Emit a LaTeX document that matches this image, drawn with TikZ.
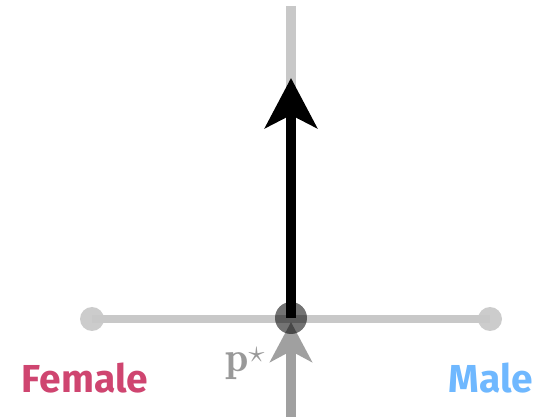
\documentclass[tikz,border=0pt]{standalone}
\usepackage{fontspec}
\usepackage{amsmath}
\usetikzlibrary{arrows.meta,positioning}
\newfontfamily\groupfont{Fira Sans}
\definecolor{axisgray}{HTML}{C8C8C8}
\definecolor{dotgray}{HTML}{CCCCCC}
\definecolor{pushgray}{HTML}{A0A0A0}
\definecolor{labelgray}{HTML}{999999}
\definecolor{femalered}{HTML}{CF4570}
\definecolor{maleblue}{HTML}{6FB8FF}

\begin{document}
\begin{tikzpicture}[x=1pt, y=-1pt,
    axis/.style={draw=axisgray, line width=8pt},
    endpt/.style={circle, fill=dotgray, minimum size=24pt, inner sep=0pt},
    center/.style={circle, fill=black, fill opacity=0.55, minimum size=32pt, inner sep=0pt},
    group/.style={font=\groupfont\bfseries\fontsize{39}{39}\selectfont}
  ]
    \useasboundingbox (0,0) rectangle (539,417);
    % axes
    \coordinate (top) at (291,6);
    \coordinate (head) at (291,78);
    \coordinate (origin) at (291,318);
    \coordinate (bottom) at (291,417);
    \coordinate (tipin) at (291,322);
    \node[endpt] (left) at (92,319) {};
    \node[endpt] (right) at (490,319) {};
    \draw[axis] (left.center) -- (right.center);
    \draw[draw=axisgray, line width=10pt] (top) -- ([yshift=-14pt]head);
    % gradient arrows
    \draw[pushgray, line width=10pt, -{Stealth[length=40pt, width=42pt, inset=11pt]}] (bottom) -- (tipin);
    \draw[black, line width=10pt, -{Stealth[length=50pt, width=52pt, inset=13pt]}] (origin) -- (head);
    \node[center] (pstar) at (origin) {};
    % labels
    \node[labelgray, font=\fontsize{42}{42}\selectfont] (plabel) at (245,364) {$\mathbf{p}^{\scalebox{1.3}{$\scriptstyle\star$}}$};
    \node[group, femalered] (female) at (85,378) {Female};
    \node[group, maleblue] (male) at (491,378) {Male};
  \end{tikzpicture}
\end{document}
